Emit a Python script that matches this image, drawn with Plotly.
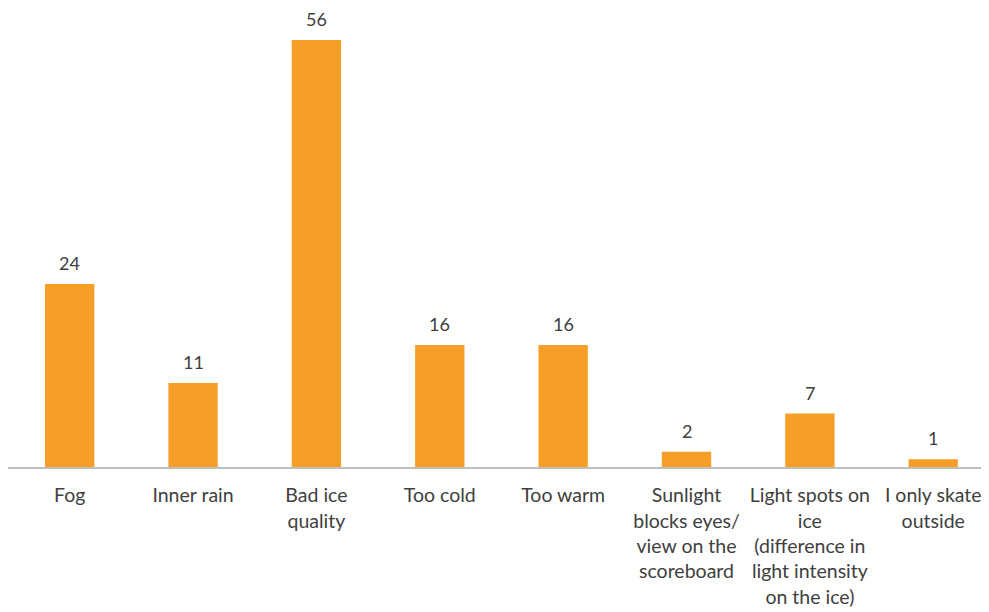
import plotly.graph_objects as go

categories = ["Fog", "Inner rain", "Bad ice<br>quality", "Too cold", "Too warm",
              "Sunlight<br>blocks eyes/<br>view on the<br>scoreboard",
              "Light spots on<br>ice<br>(difference in<br>light intensity<br>on the ice)",
              "I only skate<br>outside"]
values = [24, 11, 56, 16, 16, 2, 7, 1]

xs = list(range(len(categories)))
fig = go.Figure(go.Bar(
    x=xs, y=values,
    marker=dict(color="#F79E28", line=dict(width=0)),
    width=0.4,
))
for x, v in zip(xs, values):
    fig.add_annotation(x=x, y=v, text=str(v), showarrow=False, yanchor="bottom",
                       yshift=8, font=dict(size=18, color="#404040", family="Lato"))
fig.update_layout(
    width=981, height=604,
    margin=dict(l=0, r=0, t=12, b=145),
    plot_bgcolor="white", paper_bgcolor="white",
    showlegend=False,
    font=dict(family="Lato", color="#404040", size=18),
    xaxis=dict(tickmode="array", tickvals=xs, ticktext=categories,
               range=[-0.5, 7.452], showgrid=False, zeroline=False,
               showline=True, linecolor="#BFBFBF", linewidth=1.5, ticks="",
               ticklabelstandoff=10,
               tickfont=dict(size=19.5, color="#404040")),
    yaxis=dict(range=[0, 58.62], visible=False, showgrid=False),
)
fig.write_html("out.html")
